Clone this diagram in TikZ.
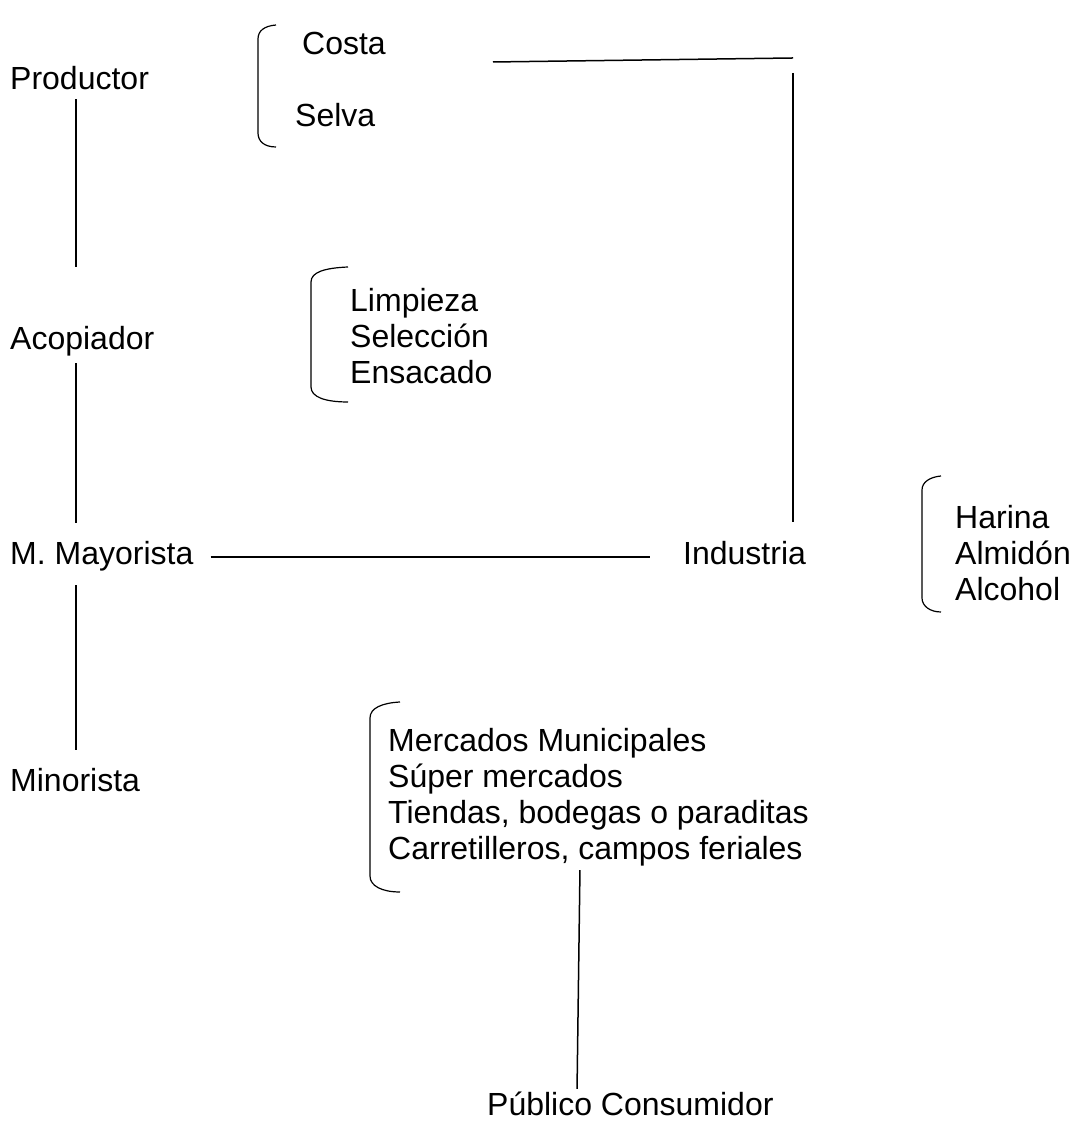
\documentclass[tikz,border=0pt]{standalone}
\usepackage{fontspec}
\setmainfont{Liberation Sans}
\begin{document}
\begin{tikzpicture}[line join=bevel,
  etiqueta/.style={anchor=base west,inner sep=0pt,text height=23bp,text depth=7bp,
    font=\fontsize{32bp}{36bp}\selectfont},
  linea/.style={line width=1.5bp},
  llave/.style={line width=1.2bp}]
  \useasboundingbox (0bp,0bp) rectangle (1076bp,1124bp);
%%
  % Node: Productor
  \node[etiqueta] (prod) at (10bp,1034bp) {Productor};
  % Node: Costa / Selva
  \node[etiqueta] (costa) at (302bp,1069bp) {Costa};
  \node[etiqueta] (selva) at (295bp,997bp) {Selva};
  % Node: Acopiador
  \node[etiqueta] (acop) at (10bp,774bp) {Acopiador};
  \node[etiqueta] (limp) at (350bp,812bp) {Limpieza};
  \node[etiqueta] (sel) at (350bp,776bp) {Selección};
  \node[etiqueta] (ens) at (350bp,740bp) {Ensacado};
  % Node: M. Mayorista
  \node[etiqueta] (mayo) at (10bp,559bp) {M. Mayorista};
  % Node: Industria
  \node[etiqueta] (ind) at (683bp,559bp) {Industria};
  \node[etiqueta] (har) at (955bp,595bp) {Harina};
  \node[etiqueta] (alm) at (955bp,559bp) {Almidón};
  \node[etiqueta] (alc) at (955bp,523bp) {Alcohol};
  % Node: Minorista
  \node[etiqueta] (mino) at (10bp,332bp) {Minorista};
  \node[etiqueta] (merc) at (388bp,372bp) {Mercados Municipales};
  \node[etiqueta] (sup) at (388bp,336bp) {Súper mercados};
  \node[etiqueta] (tien) at (388bp,300bp) {Tiendas, bodegas o paraditas};
  \node[etiqueta] (carr) at (388bp,264bp) {Carretilleros, campos feriales};
  % Node: Publico Consumidor
  \node[etiqueta] (pub) at (487bp,9bp) {Público Consumidor};
  \coordinate (eje) at (76bp,0bp);
  \coordinate (esq) at (793bp,1066bp);
%%
  % Edge: prod -- acop
  \draw[linea,shorten <=2bp,shorten >=60bp] (prod.south -| eje) -- (acop.north -| eje);
  % Edge: acop -- mayo
  \draw[linea,shorten <=6bp,shorten >=19bp] (acop.south -| eje) -- (mayo.north -| eje);
  % Edge: mayo -- mino
  \draw[linea,shorten <=13bp,shorten >=19bp] (mayo.south -| eje) -- (mino.north -| eje);
  % Edge: mayo -- ind
  \draw[linea,shorten <=17bp,shorten >=33bp] (mayo.east) -- (ind.west);
  % Edge: costa -- ind
  \draw[linea] ([xshift=107bp,yshift=-15bp]costa.east) -- (esq);
  \draw[linea,shorten >=20bp] ([yshift=-15bp]esq) -- (ind.north -| esq);
  % Edge: carr -- pub
  \draw[linea,shorten <=3bp,shorten >=3bp] ([xshift=192bp]carr.south west) -- ([xshift=90bp]pub.north west);
%%
  % Brackets
  \draw[llave] (276bp,1099bp) .. controls (264bp,1098bp) and (258bp,1093bp) .. (258bp,1085bp) -- (258bp,991bp) .. controls (258bp,983bp) and (264bp,977bp) .. (276bp,977bp);
  \draw[llave] (348bp,857bp) .. controls (325bp,856bp) and (311bp,852bp) .. (311bp,842bp) -- (311bp,737bp) .. controls (311bp,727bp) and (325bp,722bp) .. (348bp,722bp);
  \draw[llave] (941bp,648bp) .. controls (930bp,647bp) and (922bp,642bp) .. (922bp,634bp) -- (922bp,526bp) .. controls (922bp,518bp) and (930bp,512bp) .. (941bp,512bp);
  \draw[llave] (400bp,422bp) .. controls (382bp,421bp) and (370bp,416bp) .. (370bp,406bp) -- (370bp,248bp) .. controls (370bp,238bp) and (382bp,232bp) .. (400bp,232bp);
%
\end{tikzpicture}
\end{document}
